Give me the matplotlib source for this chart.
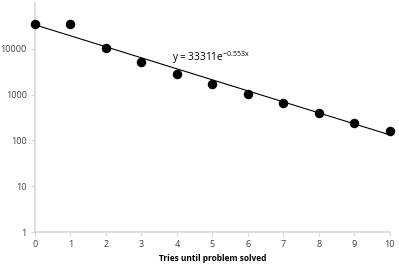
import matplotlib.pyplot as plt
import numpy as np

tries = [0, 1, 2, 3, 4, 5, 6, 7, 8, 9, 10]
counts = [34500, 34500, 10500, 5200, 2850, 1740, 1050, 670, 405, 245, 157]

# trendline coefficients as printed on the chart
fit_a = 33311
fit_b = -0.553

xticks = list(range(11))
yticks = [1, 10, 100, 1000, 10000]
ytick_labels = ['1', '10', '100', '1000', '10000']

plt.rcParams['font.family'] = ['Open Sans', 'DejaVu Sans']
plt.rcParams['mathtext.default'] = 'regular'

fig = plt.figure(figsize=(3.99, 2.67), dpi=100)
ax = fig.add_axes([0.0877, 0.131, 0.889, 0.858])

xs = np.array([tries[0], tries[-1]], dtype=float)
ax.plot(xs, fit_a * np.exp(fit_b * xs), color='black', lw=0.8, zorder=2)
ax.scatter(tries, counts, s=34, color='black', zorder=3, clip_on=False)

ax.set_yscale('log')
ax.set_xlim(0, 10)
ax.set_ylim(1, 100000)
ax.set_xticks(xticks)
ax.set_yticks(yticks)
ax.set_yticklabels(ytick_labels)
ax.minorticks_off()

ax.text(3.87, 6300, r'y = 33311e$^{-0.553x}$', fontsize=7.2, va='center', ha='left')

ax.set_xlabel('Tries until problem solved', fontsize=6, fontweight='bold', labelpad=3)

for s in ['top', 'right']:
    ax.spines[s].set_visible(False)
for s in ['left', 'bottom']:
    ax.spines[s].set_color('#d9d9d9')
    ax.spines[s].set_linewidth(1.2)
ax.tick_params(axis='both', colors='#d9d9d9', labelcolor='#404040', labelsize=6.5, length=3, width=0.8, pad=3)

fig.savefig('out.png', dpi=100)
